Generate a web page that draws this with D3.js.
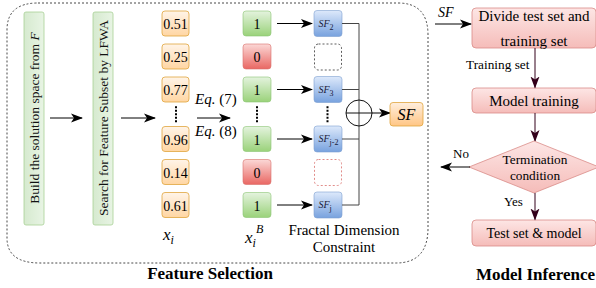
<!DOCTYPE html>
<html>
<head>
<meta charset="utf-8">
<script src="https://cdn.jsdelivr.net/npm/d3@7"></script>
<style>
  body { margin: 0; background: #fff; }
  svg, svg text { font-family: "Liberation Serif", "Times New Roman", "DejaVu Serif", serif; }
</style>
</head>
<body>
<div id="chart"></div>
<script>
// row index -> values (index 2.75 is the vertical ellipsis row)
const rowIndex = [0, 1, 2, 3.5, 4.5, 5.5];
const xiValues = ["0.51", "0.25", "0.77", "0.96", "0.14", "0.61"];
const bitValues = [1, 0, 1, 1, 0, 1];
const sfSubs = ["2", null, "3", "j-2", null, "j"];
const stepLabels = ["Build the solution space from ", "Search for Feature Subset by LFWA"];
const flowBoxes = ["Divide test set and|training set", "Model training", "Test set & model"];

const W = 596, H = 288;
const svg = d3.select("#chart").append("svg").attr("width", W).attr("height", H)
  .attr("font-family", "'Liberation Serif', 'Times New Roman', serif");
const defs = svg.append("defs");

function grad(id, top, bottom, horiz) {
  const g = defs.append("linearGradient").attr("id", id).attr("x1", 0).attr("y1", 0)
    .attr("x2", horiz ? 1 : 0).attr("y2", horiz ? 0 : 1);
  g.append("stop").attr("offset", "0%").attr("stop-color", top);
  g.append("stop").attr("offset", "100%").attr("stop-color", bottom);
}
grad("gOrange", "#fff4e8", "#ffd6a3");
grad("gGreen", "#e4f3de", "#9ad27a");
grad("gRed", "#fbd8d6", "#e96763");
grad("gBlue", "#dde9fb", "#78a2de");
grad("gPink", "#fde6e5", "#f5bcb9");
grad("gBar", "#d6eacf", "#e8f4e4", true);
grad("gSF", "#ffeedd", "#ffc685");

const marker = (id, color) => defs.append("marker").attr("id", id)
  .attr("viewBox", "0 0 12 10").attr("refX", 11).attr("refY", 5)
  .attr("markerWidth", 12).attr("markerHeight", 10).attr("markerUnits", "userSpaceOnUse")
  .attr("orient", "auto")
  .append("path").attr("d", "M0,0.5 L12,5 L0,9.5 L3,5 Z").attr("fill", color);
marker("arrK", "#000");
marker("arrM", "#33001a");

// scale for row positions
const y = d3.scaleLinear().domain([0, 5.5]).range([23.5, 205]);
const cellH = 25;

function arrow(x1, y1, x2, y2, m = "arrK", col = "#000") {
  svg.append("line").attr("x1", x1).attr("y1", y1).attr("x2", x2).attr("y2", y2)
    .attr("stroke", col).attr("stroke-width", 1).attr("marker-end", `url(#${m})`);
}

// outer dashed box
svg.append("path")
  .attr("d", "M38,3 H398 Q428,3 428,35 V228 Q428,263 396,263 H40 Q7,263 7,238 V30 Q7,3 38,3 Z")
  .attr("fill", "none").attr("stroke", "#333").attr("stroke-width", 0.9).attr("stroke-dasharray", "2,2");

// green vertical step bars
const barX = [24, 93];
barX.forEach((bx, i) => {
  svg.append("rect").attr("x", bx).attr("y", 12).attr("width", 20).attr("height", 213).attr("rx", 2)
    .attr("fill", "url(#gBar)").attr("stroke", "#a8d096").attr("stroke-width", 0.8);
  const t = svg.append("text").attr("transform", `translate(${bx + 14.5},118) rotate(-90)`)
    .attr("text-anchor", "middle").attr("font-size", 13.5).attr("fill", "#111");
  t.append("tspan").text(stepLabels[i]);
  if (i === 0) t.append("tspan").attr("font-style", "italic").text("F");
});
arrow(50, 118, 82, 118);
arrow(121, 118, 155, 118);

// orange x_i cells
svg.selectAll(".xi").data(xiValues).join("g")
  .attr("transform", (d, i) => `translate(162,${y(rowIndex[i]) - cellH / 2})`)
  .each(function (d) {
    const g = d3.select(this);
    g.append("rect").attr("width", 27).attr("height", cellH).attr("rx", 3)
      .attr("fill", "url(#gOrange)").attr("stroke", "#e0a53c").attr("stroke-width", 0.8);
    g.append("text").attr("x", 13.5).attr("y", 18).attr("text-anchor", "middle")
      .attr("font-size", 14).text(d);
  });

// binary cells
svg.selectAll(".bit").data(bitValues).join("g")
  .attr("transform", (d, i) => `translate(243,${y(rowIndex[i]) - cellH / 2})`)
  .each(function (d) {
    const g = d3.select(this);
    g.append("rect").attr("width", 28).attr("height", cellH).attr("rx", 3)
      .attr("fill", d ? "url(#gGreen)" : "url(#gRed)")
      .attr("stroke", d ? "#8cc474" : "#d9706c").attr("stroke-width", 0.6);
    g.append("text").attr("x", 14).attr("y", 18).attr("text-anchor", "middle")
      .attr("font-size", 14).text(d);
  });

// SF cells and dashed placeholders
svg.selectAll(".sf").data(sfSubs).join("g")
  .attr("transform", (d, i) => `translate(314,${y(rowIndex[i]) - 13})`)
  .each(function (d, i) {
    const g = d3.select(this);
    if (d === null) {
      g.append("rect").attr("x", 0.5).attr("y", 0.5).attr("width", 27).attr("height", 26).attr("rx", 4)
        .attr("fill", "none").attr("stroke", i === 1 ? "#333" : "#d9706c")
        .attr("stroke-width", 0.8).attr("stroke-dasharray", "2,2");
      return;
    }
    g.append("rect").attr("width", 28).attr("height", 26).attr("rx", 3)
      .attr("fill", "url(#gBlue)").attr("stroke", "#7ea0d0").attr("stroke-width", 0.6);
    const t = g.append("text").attr("x", 4.5).attr("y", 16).attr("font-size", 10).attr("fill", "#1a1a3a");
    t.append("tspan").attr("font-style", "italic").text("SF");
    t.append("tspan").attr("dy", 3).attr("font-size", 8).text(d);
  });

// arrows bit -> SF for selected features
rowIndex.forEach((r, i) => {
  if (bitValues[i]) arrow(277, y(r), 312, y(r));
  if (sfSubs[i]) {
    svg.append("line").attr("x1", 342).attr("y1", y(r)).attr("x2", 359).attr("y2", y(r))
      .attr("stroke", "#444").attr("stroke-width", 1);
  }
});

// vertical ellipses
[176, 257, 327.5].forEach(cx => {
  svg.append("line").attr("x1", cx).attr("x2", cx).attr("y1", y(2.75) - 8).attr("y2", y(2.75) + 9)
    .attr("stroke", "#000").attr("stroke-width", 2).attr("stroke-dasharray", "2,1.5");
});

// aggregation line and sum node
svg.append("line").attr("x1", 359).attr("x2", 359).attr("y1", y(0)).attr("y2", y(5.5))
  .attr("stroke", "#444").attr("stroke-width", 1);
const cy = 113;
svg.append("circle").attr("cx", 359).attr("cy", cy).attr("r", 13)
  .attr("fill", "none").attr("stroke", "#111").attr("stroke-width", 1);
svg.append("line").attr("x1", 346).attr("x2", 372).attr("y1", cy).attr("y2", cy).attr("stroke", "#111");
arrow(372, cy, 390, cy);
svg.append("rect").attr("x", 390).attr("y", 102.5).attr("width", 33).attr("height", 23.5).attr("rx", 3)
  .attr("fill", "url(#gSF)").attr("stroke", "#e0a53c").attr("stroke-width", 0.8);
svg.append("text").attr("x", 406.5).attr("y", 119.5).attr("text-anchor", "middle")
  .attr("font-size", 16).attr("font-style", "italic").text("SF");

// Eq labels
arrow(197, 118, 230, 118);
svg.append("text").attr("x", 195).attr("y", 104).attr("font-size", 15)
  .html('<tspan font-style="italic">Eq.</tspan> (7)');
svg.append("text").attr("x", 195).attr("y", 136).attr("font-size", 15)
  .html('<tspan font-style="italic">Eq.</tspan> (8)');

// column labels
svg.append("text").attr("x", 163).attr("y", 240).attr("font-size", 17).attr("font-style", "italic")
  .html('x<tspan dy="4" font-size="12">i</tspan>');
svg.append("text").attr("x", 245).attr("y", 243).attr("font-size", 17).attr("font-style", "italic")
  .html('x<tspan dy="4" font-size="12">i</tspan><tspan dy="-14" font-size="12">B</tspan>');
svg.append("text").attr("x", 344).attr("y", 235).attr("text-anchor", "middle").attr("font-size", 15)
  .text("Fractal Dimension");
svg.append("text").attr("x", 344).attr("y", 252).attr("text-anchor", "middle").attr("font-size", 15)
  .text("Constraint");
svg.append("text").attr("x", 210).attr("y", 279).attr("text-anchor", "middle")
  .attr("font-size", 17).attr("font-weight", "bold").text("Feature Selection");

// ---- Model inference flow ----
const fx = 472, fw = 124, fc = fx + fw / 2;
const boxY = [[8, 40, 15], [88, 25, 15], [220, 26, 14]];
flowBoxes.forEach((label, i) => {
  const [by, bh, fs] = boxY[i];
  svg.append("rect").attr("x", fx).attr("y", by).attr("width", fw).attr("height", bh).attr("rx", 4)
    .attr("fill", "url(#gPink)").attr("stroke", "#d98b88").attr("stroke-width", 0.8);
  const lines = label.split("|");
  lines.forEach((l, k) => {
    svg.append("text").attr("x", fc).attr("text-anchor", "middle").attr("font-size", fs)
      .attr("y", lines.length > 1 ? by + 12.5 + k * 25 : by + bh / 2 + 5).text(l);
  });
});

svg.append("text").attr("x", 438).attr("y", 17).attr("font-size", 14).attr("font-style", "italic").text("SF");
arrow(435, 24, 471, 24);

arrow(535, 48, 535, 87.5, "arrM", "#33001a");
svg.append("text").attr("x", 466).attr("y", 69).attr("font-size", 13.3).text("Training set");
arrow(535, 113, 535, 141, "arrM", "#33001a");

// diamond
const dy0 = 167;
svg.append("path").attr("d", `M${fc},${dy0 - 26} L${fc + 65},${dy0} L${fc},${dy0 + 26} L${fc - 65},${dy0} Z`)
  .attr("fill", "url(#gPink)").attr("stroke", "#d98b88").attr("stroke-width", 0.8);
svg.append("text").attr("x", fc + 1).attr("y", 164).attr("text-anchor", "middle").attr("font-size", 13.3).text("Termination");
svg.append("text").attr("x", fc + 1).attr("y", 179.5).attr("text-anchor", "middle").attr("font-size", 13.3).text("condition");

arrow(470, dy0, 441, dy0);
svg.append("text").attr("x", 453).attr("y", 158).attr("font-size", 13).text("No");
arrow(535, 193, 535, 219.5, "arrM", "#33001a");
svg.append("text").attr("x", 504).attr("y", 206).attr("font-size", 13).text("Yes");

svg.append("text").attr("x", 535.5).attr("y", 280).attr("text-anchor", "middle")
  .attr("font-size", 17).attr("font-weight", "bold").text("Model Inference");
</script>
</body>
</html>
